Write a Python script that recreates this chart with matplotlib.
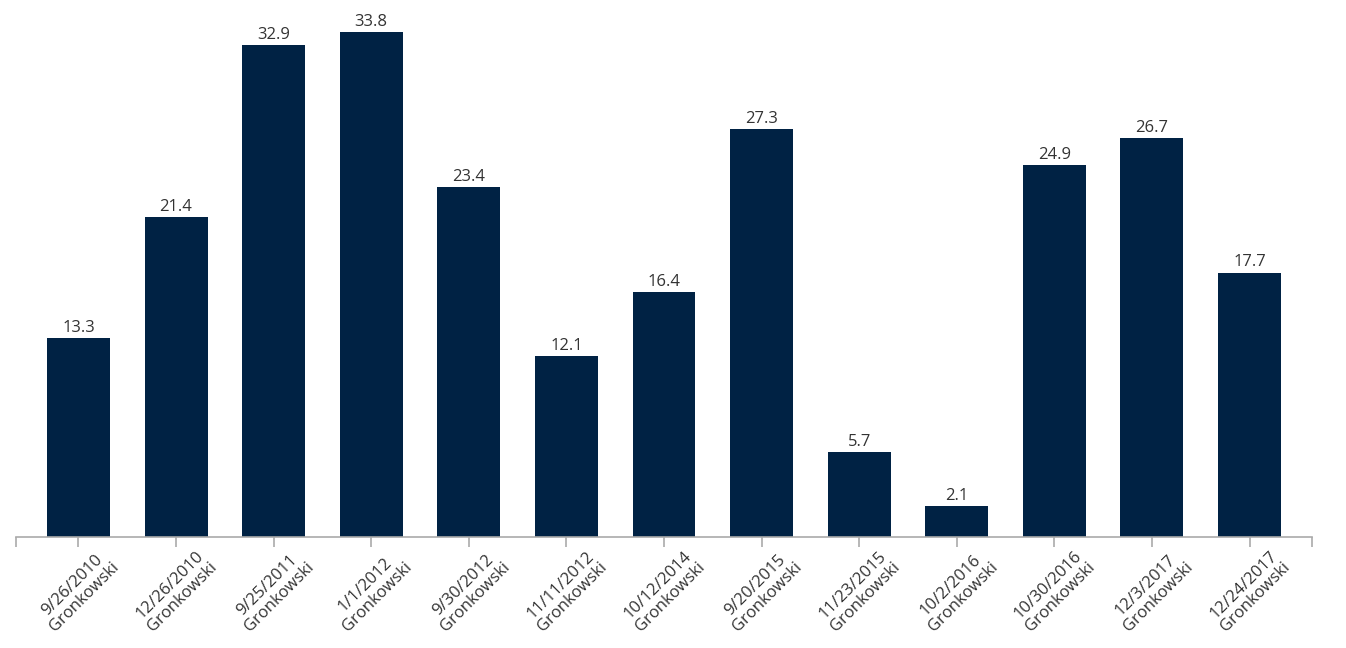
import matplotlib

matplotlib.use("Agg")
import matplotlib.pyplot as plt

plt.rcParams["font.family"] = ["Open Sans", "DejaVu Sans"]

dates = ["9/26/2010", "12/26/2010", "9/25/2011", "1/1/2012", "9/30/2012",
         "11/11/2012", "10/12/2014", "9/20/2015", "11/23/2015", "10/2/2016",
         "10/30/2016", "12/3/2017", "12/24/2017"]
players = ["Gronkowski"] * 13
values = [13.3, 21.4, 32.9, 33.8, 23.4, 12.1, 16.4, 27.3, 5.7, 2.1, 24.9, 26.7, 17.7]

BAR_COLOR = "#002244"
TEXT_COLOR = "#333333"
AXIS_COLOR = "#aaaaaa"

fig = plt.figure(figsize=(13.46, 6.48), dpi=100)
ax = fig.add_axes([16 / 1346, 111 / 648, 1296 / 1346, 537 / 648])

xs = list(range(len(values)))
bars = ax.bar(xs, values, width=0.645, color=BAR_COLOR)
for bar, v in zip(bars, values):
    ax.annotate(f"{v:.1f}", (bar.get_x() + bar.get_width() / 2, bar.get_height()),
                textcoords="offset points", xytext=(0, 1.5), ha="center", va="bottom",
                fontsize=12, color=TEXT_COLOR)

ax.set_xlim(-0.64, len(values) - 1 + 0.64)
ax.set_ylim(0, 35.94)
ax.set_xticks(xs, [f"{d}\n{p}" for d, p in zip(dates, players)],
              rotation=45, ha="center", va="center", rotation_mode="anchor",
              fontsize=12, color=TEXT_COLOR, multialignment="center",
              linespacing=1.1)
ax.set_xticks([-0.64, len(values) - 1 + 0.64], minor=True)
ax.tick_params(axis="x", which="both", length=7, color=AXIS_COLOR, width=1.2)
ax.tick_params(axis="x", which="major", pad=32)
ax.set_yticks([])
for side in ("top", "right", "left"):
    ax.spines[side].set_visible(False)
ax.spines["bottom"].set_color(AXIS_COLOR)
ax.spines["bottom"].set_linewidth(1.2)

fig.savefig("out.png", dpi=100)
